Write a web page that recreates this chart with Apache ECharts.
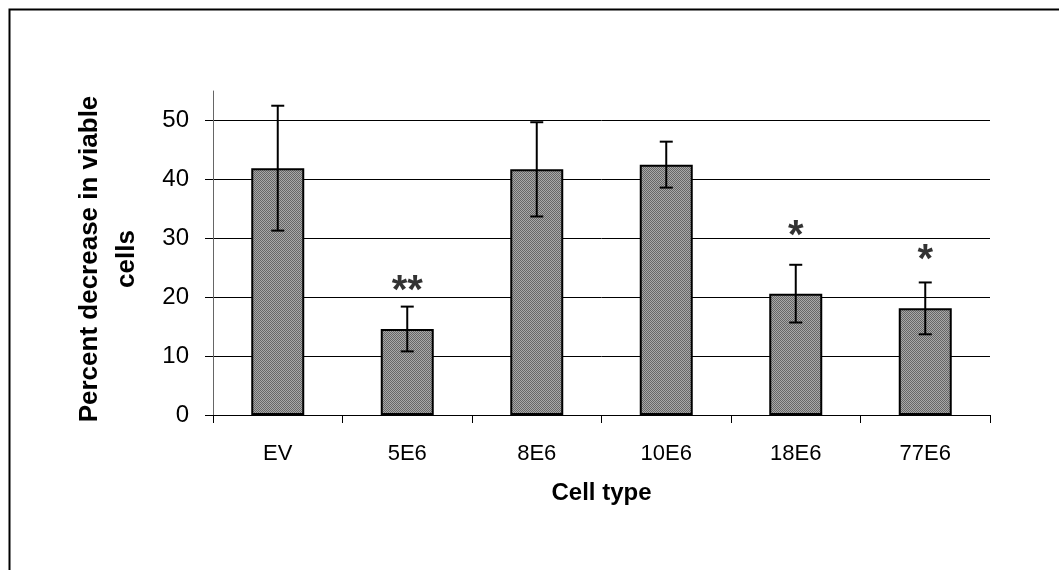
<!DOCTYPE html>
<html>
<head>
<meta charset="utf-8">
<script src="https://cdn.jsdelivr.net/npm/echarts@6/dist/echarts.min.js"></script>
<style>
html,body{margin:0;padding:0;background:#fff;}
#chart{width:1059px;height:570px;}
</style>
</head>
<body>
<div id="chart"></div>
<script>
// ---- data ----
var categories = ['EV', '5E6', '8E6', '10E6', '18E6', '77E6'];
var means      = [41.9, 14.6, 41.7, 42.5, 20.6, 18.1];
var errors     = [10.6, 3.8, 8.0, 3.9, 4.9, 4.4];
var sigMarks   = ['', '**', '', '', '*', '*'];
var sigLevels  = [null, 22.4, null, null, 31.8, 27.7];
var yTicks     = [0, 10, 20, 30, 40, 50];

// checkered fill like the original
var pat = document.createElement('canvas');
pat.width = 2; pat.height = 2;
var pc = pat.getContext('2d');
pc.fillStyle = '#a8a8a8'; pc.fillRect(0, 0, 2, 2);
pc.fillStyle = '#666666'; pc.fillRect(0, 0, 1, 1); pc.fillRect(1, 1, 1, 1);

var errData = categories.map(function (c, i) {
  return [i, means[i] - errors[i], means[i] + errors[i]];
});
var sigData = [];
categories.forEach(function (c, i) {
  if (sigMarks[i]) sigData.push({ value: [i, sigLevels[i]], mark: sigMarks[i] });
});

var chart = echarts.init(document.getElementById('chart'), null, { renderer: 'canvas' });
chart.setOption({
  animation: false,
  backgroundColor: '#ffffff',
  textStyle: { fontFamily: 'Liberation Sans, Arial, sans-serif' },
  graphic: [{
    type: 'rect', left: 7, top: 7, silent: true,
    shape: { x: 0, y: 0, width: 1200, height: 700 },
    style: { fill: 'none', stroke: '#000', lineWidth: 2 }
  }],
  grid: { left: 213, right: 69, top: 91, bottom: 155 },
  xAxis: {
    type: 'category',
    data: categories,
    name: 'Cell type',
    nameLocation: 'middle',
    nameGap: 66,
    nameTextStyle: { fontSize: 24, fontWeight: 'bold', color: '#000' },
    axisLine: { lineStyle: { color: '#000', width: 1 } },
    axisTick: { show: true, alignWithLabel: false, length: 8, lineStyle: { color: '#000' } },
    axisLabel: { fontSize: 22, color: '#000', margin: 28 },
    splitLine: { show: false }
  },
  yAxis: {
    type: 'value',
    min: 0, max: 55, interval: 10,
    name: 'Percent decrease in viable\ncells',
    nameLocation: 'middle',
    nameGap: 68,
    nameTextStyle: { fontSize: 26, fontWeight: 'bold', color: '#000', lineHeight: 37, align: 'center', padding: [0, 12, 0, 0] },
    axisLine: { show: true, lineStyle: { color: '#666', width: 1 } },
    axisTick: { show: true, length: 8, lineStyle: { color: '#000' }, customValues: yTicks },
    axisLabel: { fontSize: 24, color: '#000', margin: 24, customValues: yTicks },
    splitLine: { show: true, showMaxLine: true, lineStyle: { color: '#000', width: 1 } }
  },
  series: [
    {
      type: 'bar',
      data: means,
      barWidth: 53,
      itemStyle: { color: { image: pat, repeat: 'repeat' }, borderColor: '#000', borderWidth: 2 },
      z: 2
    },
    {
      type: 'custom',
      data: errData,
      z: 3,
      renderItem: function (params, api) {
        var x = api.value(0);
        var lo = api.coord([x, api.value(1)]);
        var hi = api.coord([x, api.value(2)]);
        var cap = 6.5;
        var st = { stroke: '#000', lineWidth: 2 };
        return {
          type: 'group',
          children: [
            { type: 'line', shape: { x1: lo[0], y1: lo[1], x2: hi[0], y2: hi[1] }, style: st },
            { type: 'line', shape: { x1: hi[0] - cap, y1: hi[1], x2: hi[0] + cap, y2: hi[1] }, style: st },
            { type: 'line', shape: { x1: lo[0] - cap, y1: lo[1], x2: lo[0] + cap, y2: lo[1] }, style: st }
          ]
        };
      }
    },
    {
      type: 'scatter',
      data: sigData,
      symbolSize: 0,
      z: 4,
      label: {
        show: true,
        position: 'inside',
        formatter: function (p) { return p.data.mark; },
        fontSize: 40,
        fontWeight: 'bold',
        color: '#000',
        offset: [0, 9]
      }
    }
  ]
});
</script>
</body>
</html>
